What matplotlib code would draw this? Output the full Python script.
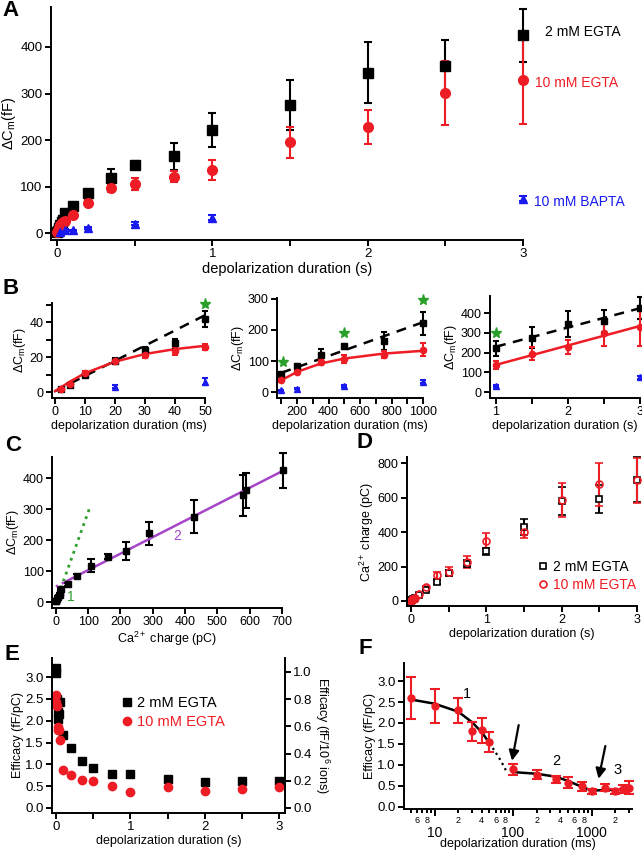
import numpy as np
import matplotlib
matplotlib.use('Agg')
import matplotlib.pyplot as plt
from matplotlib.lines import Line2D
from matplotlib.ticker import FixedLocator, FixedFormatter

plt.rcParams['font.family'] = ['Liberation Sans', 'DejaVu Sans']
plt.rcParams['mathtext.fontset'] = 'custom'
plt.rcParams['mathtext.rm'] = 'Liberation Sans'
plt.rcParams['mathtext.it'] = 'Liberation Sans:italic'
plt.rcParams['mathtext.bf'] = 'Liberation Sans:bold'

RED = '#ee1c24'
BLUE = '#1a1aee'
GREEN = '#2aa02a'
PURPLE = '#a545c8'

# ---- data ----
# depolarization durations (s) for the EGTA series
dur = [0.002, 0.005, 0.01, 0.02, 0.03, 0.04, 0.05, 0.1, 0.2, 0.35, 0.5, 0.75, 1.0, 1.5, 2.0, 2.5, 3.0]
dcm_2mm = [2, 4, 10, 18, 24, 28, 42, 58, 85, 118, 147, 165, 222, 275, 345, 360, 425]
dcm_2mm_err = [0.5, 0.8, 1, 1.5, 2, 2.5, 4.5, 5, 6, 20, 8, 29, 37, 53, 66, 56, 57]
dcm_10mm = [2, 4.5, 10.8, 17.7, 21, 23.5, 26, 38, 65, 96, 106, 121, 136, 195, 228, 301, 330]
dcm_10mm_err = [0.5, 0.8, 1.2, 1.3, 1.5, 2.2, 1.8, 4, 5, 8, 13, 12, 21, 33, 36, 68, 95]

dur_bapta = [0.02, 0.05, 0.1, 0.2, 0.5, 1.0, 3.0]
dcm_bapta = [3, 6, 6, 11, 20, 33, 74]
dcm_bapta_err = [0.8, 2, 1.5, 2, 3, 5, 6]

# fitted lines in B (read as points off the picture)
fitB1_x = [0, 50]
fitB1_black = [0.5, 44]
fitB1_red_x = [0, 5, 10, 20, 30, 40, 50]
fitB1_red = [0.5, 6, 10.8, 17.4, 21.8, 24.6, 26.5]
fitB2_x = [100, 1000]
fitB2_black = [62, 225]
fitB2_red_x = [100, 200, 350, 500, 750, 1000]
fitB2_red = [38, 65, 92, 108, 124, 133]
fitB3_x = [1, 3]
fitB3_black = [230, 425]
fitB3_red = [138, 335]

# significance stars in B
star_b1 = ([50], [50.5])
star_b2 = ([110, 500, 1000], [97, 190, 297])
star_b3 = ([1], [300])

# Ca2+ charge (pC)
ca_2mm = [0.6, 1.2, 4, 8, 11.7, 13, 17.4, 36, 64, 110, 162, 217, 289, 428, 580, 590, 703]
ca_2mm_err = [0.2, 0.4, 0.8, 1.5, 2, 2.5, 3, 3, 5, 12, 15, 20, 20, 45, 80, 80, 130]
ca_10mm = [0.8, 1.7, 4.7, 9.8, 11.8, 13.3, 16.8, 41, 81, 150, 170, 226, 350, 400, 585, 678, 700]
ca_10mm_err = [0.2, 0.4, 0.8, 1.5, 2, 2.5, 3, 4, 8, 20, 25, 35, 45, 35, 100, 125, 130]

# C fit lines
fitC1_x = [0, 105]
fitC1_y = [0, 305]
fitC2_dot_x = [0, 30]
fitC2_dot_y = [50, 66]
fitC2_x = [30, 700]
fitC2_y = [66, 422]

# E efficacy (fF/pC)
eff_2mm = [3.1, 3.22, 2.5, 2.2, 2.05, 2.15, 2.42, 1.67, 1.38, 1.08, 0.91, 0.77, 0.78, 0.66, 0.6, 0.61, 0.61]
eff_10mm = [2.6, 2.42, 2.35, 1.85, 1.8, 1.78, 1.55, 0.88, 0.75, 0.65, 0.63, 0.51, 0.37, 0.49, 0.38, 0.44, 0.47]
ions_per_pC = 3.12  # 10^6 Ca2+ ions per pC

# F efficacy vs duration (ms)
f_dur = [5, 10, 20, 30, 40, 50, 100, 200, 350, 500, 750, 1000, 1500, 2000, 2500, 3000]
f_eff = [2.6, 2.4, 2.3, 1.8, 1.83, 1.55, 0.9, 0.77, 0.66, 0.58, 0.49, 0.37, 0.46, 0.37, 0.42, 0.46]
f_err = [0.5, 0.4, 0.3, 0.22, 0.3, 0.23, 0.13, 0.1, 0.08, 0.13, 0.1, 0.06, 0.08, 0.06, 0.1, 0.15]
fitF1_x = [5, 10, 20, 30, 40, 50]
fitF1_y = [2.56, 2.46, 2.27, 2.02, 1.78, 1.52]
fitF1_dot_x = [50, 60, 70, 85]
fitF1_dot_y = [1.52, 1.3, 1.1, 0.8]
fitF2_x = [100, 200, 350, 500, 750, 1000]
fitF2_y = [0.83, 0.79, 0.72, 0.62, 0.48, 0.39]
fitF3_x = [1000, 1500, 2000, 3000]
fitF3_y = [0.39, 0.4, 0.41, 0.45]

# ---- figure ----
W, H = 642, 852
fig = plt.figure(figsize=(W / 100, H / 100), dpi=100)


def add_ax(left, top, right, bottom):
    return fig.add_axes([left / W, 1 - bottom / H, (right - left) / W, (bottom - top) / H])


def style(ax, fs=9.5):
    ax.spines['top'].set_visible(False)
    ax.spines['right'].set_visible(False)
    for s in ['left', 'bottom']:
        ax.spines[s].set_linewidth(1.4)
    ax.tick_params(which='both', width=1.4, length=4, labelsize=fs, pad=2)


def eb(ax, x, y, err, fmt, color, ms, cap=3, **kw):
    c = ax.errorbar(x, y, yerr=err, fmt=fmt, color=color, ms=ms, capsize=cap,
                    elinewidth=1.5, capthick=1.5, **kw)
    for a in c.get_children():
        a.set_clip_on(False)
    return c


def letter(x, y, s):
    fig.text(x / W, 1 - y / H, s, fontsize=16, fontweight='bold', ha='left', va='center')


ylab_cm = r'$\Delta$C$_\mathregular{m}$(fF)'
dur_a = np.array(dur)

# ---- A ----
axA = add_ax(51, 7, 523, 240)
style(axA)
eb(axA, dur, dcm_2mm, dcm_2mm_err, 's', 'k', 7)
eb(axA, dur, dcm_10mm, dcm_10mm_err, 'o', RED, 7)
eb(axA, dur_bapta, dcm_bapta, dcm_bapta_err, '^', BLUE, 6)
axA.set_xlim(-0.039, 3.0)
axA.set_ylim(-15, 486)
axA.set_xticks([0, 1, 2, 3])
axA.set_xticks([0.5, 1.5, 2.5], minor=True)
axA.set_yticks([0, 100, 200, 300, 400])
axA.set_xlabel('depolarization duration (s)', fontsize=10.5, labelpad=1)
axA.set_ylabel(ylab_cm, fontsize=10.5, labelpad=2)
axA.annotate('2 mM EGTA', xy=(dur[-1], dcm_2mm[-1]), xytext=(22, 3), textcoords='offset pixels',
             va='center', fontsize=10)
axA.annotate('10 mM EGTA', xy=(dur[-1], dcm_10mm[-1]), xytext=(12, -3), textcoords='offset pixels',
             va='center', fontsize=10, color=RED)
axA.annotate('10 mM BAPTA', xy=(dur_bapta[-1], dcm_bapta[-1]), xytext=(11, -3), textcoords='offset pixels',
             va='center', fontsize=10, color=BLUE)
letter(2, 11, 'A')

# ---- B ----
short = dur_a <= 0.05
mid = (dur_a >= 0.1) & (dur_a <= 1.0)
long_ = dur_a >= 1.0
bap = np.array(dur_bapta)
d2 = np.array(dcm_2mm); e2 = np.array(dcm_2mm_err)
d10 = np.array(dcm_10mm); e10 = np.array(dcm_10mm_err)
db = np.array(dcm_bapta); ebp = np.array(dcm_bapta_err)

axB1 = add_ax(52, 303, 205, 398)
style(axB1, 9)
axB1.plot(fitB1_x, fitB1_black, 'k--', lw=1.8, dashes=(4, 3))
axB1.plot(fitB1_red_x, fitB1_red, '-', color=RED, lw=1.8)
eb(axB1, dur_a[short] * 1000, d2[short], e2[short], 's', 'k', 4.5, cap=2.5)
eb(axB1, dur_a[short] * 1000, d10[short], e10[short], 'o', RED, 4.5, cap=2.5)
bm = bap <= 0.05
eb(axB1, bap[bm] * 1000, db[bm], ebp[bm], '^', BLUE, 4.5, cap=2.5)
axB1.plot(*star_b1, '*', color=GREEN, ms=8, clip_on=False)
axB1.set_xlim(-1, 50)
axB1.set_ylim(-3.4, 51)
axB1.set_xticks([0, 10, 20, 30, 40, 50])
axB1.set_yticks([0, 20, 40])
axB1.set_yticks([10, 30, 50], minor=True)
axB1.set_xlabel('depolarization duration (ms)', fontsize=9, labelpad=1)
axB1.set_ylabel(ylab_cm, fontsize=9, labelpad=1)

axB2 = add_ax(277, 298, 423, 398)
style(axB2, 9)
axB2.plot(fitB2_x, fitB2_black, 'k--', lw=1.8, dashes=(4, 3))
axB2.plot(fitB2_red_x, fitB2_red, '-', color=RED, lw=1.8)
eb(axB2, dur_a[mid] * 1000, d2[mid], e2[mid], 's', 'k', 4.5, cap=2.5)
eb(axB2, dur_a[mid] * 1000, d10[mid], e10[mid], 'o', RED, 4.5, cap=2.5)
bm = (bap >= 0.1) & (bap <= 1.0)
eb(axB2, bap[bm] * 1000, db[bm], ebp[bm], '^', BLUE, 4.5, cap=2.5)
axB2.plot(*star_b2, '*', color=GREEN, ms=8, ls='none', clip_on=False)
axB2.set_xlim(73, 1000)
axB2.set_ylim(-19, 303)
axB2.set_xticks([200, 400, 600, 800, 1000])
axB2.set_xticks([100, 300, 500, 700, 900], minor=True)
axB2.set_yticks([0, 100, 200, 300])
axB2.set_xlabel('depolarization duration (ms)', fontsize=9, labelpad=1)
axB2.set_ylabel(ylab_cm, fontsize=9, labelpad=1)

axB3 = add_ax(490, 296, 640, 398)
style(axB3, 9)
axB3.plot(fitB3_x, fitB3_black, 'k--', lw=1.8, dashes=(4, 3))
axB3.plot(fitB3_x, fitB3_red, '-', color=RED, lw=1.8)
eb(axB3, dur_a[long_], d2[long_], e2[long_], 's', 'k', 4.5, cap=2.5)
eb(axB3, dur_a[long_], d10[long_], e10[long_], 'o', RED, 4.5, cap=2.5)
bm = bap >= 1.0
eb(axB3, bap[bm], db[bm], ebp[bm], '^', BLUE, 4.5, cap=2.5)
axB3.plot(*star_b3, '*', color=GREEN, ms=8, clip_on=False)
axB3.set_xlim(0.917, 3.0)
axB3.set_ylim(-30, 487)
axB3.set_xticks([1, 2, 3])
axB3.set_xticks([1.5, 2.5], minor=True)
axB3.set_yticks([0, 100, 200, 300, 400])
axB3.set_xlabel('depolarization duration (s)', fontsize=9, labelpad=1)
axB3.set_ylabel(ylab_cm, fontsize=9, labelpad=1)
letter(3, 288, 'B')

# ---- C ----
axC = add_ax(52, 457, 282, 608)
style(axC, 9)
eb(axC, ca_2mm, dcm_2mm, dcm_2mm_err, 's', 'k', 5, cap=3)
axC.plot(fitC1_x, fitC1_y, ':', color=GREEN, lw=2)
axC.plot(fitC2_dot_x, fitC2_dot_y, ':', color=PURPLE, lw=1.8)
axC.plot(fitC2_x, fitC2_y, '-', color=PURPLE, lw=1.8)
axC.text(46, 16, '1', color=GREEN, fontsize=10, ha='center', va='center')
axC.text(375, 212, '2', color=PURPLE, fontsize=10, ha='center', va='center')
axC.set_xlim(-12, 700)
axC.set_ylim(-19, 468)
axC.set_xticks(range(0, 701, 100))
axC.set_yticks([0, 100, 200, 300, 400])
axC.set_xlabel(r'Ca$^{2+}$ charge (pC)', fontsize=9, labelpad=1)
axC.set_ylabel(ylab_cm, fontsize=9, labelpad=1)
letter(5, 445, 'C')

# ---- D ----
axD = add_ax(407, 457, 637, 606)
style(axD, 9)
eb(axD, dur, ca_2mm, ca_2mm_err, 's', 'k', 5, cap=3, mfc='white', mew=1.2)
eb(axD, dur, ca_10mm, ca_10mm_err, 'o', RED, 5, cap=3, mfc='none', mew=1.2)
axD.set_xlim(-0.053, 3.0)
axD.set_ylim(-29, 835)
axD.set_xticks([0, 1, 2, 3])
axD.set_xticks([0.5, 1.5, 2.5], minor=True)
axD.set_yticks([0, 200, 400, 600, 800])
axD.set_xlabel('depolarization duration (s)', fontsize=9, labelpad=1)
axD.set_ylabel(r'Ca$^{2+}$ charge (pC)', fontsize=9, labelpad=1)
hD = [Line2D([], [], marker='s', mfc='white', mec='k', mew=1.2, ls='none', ms=5),
      Line2D([], [], marker='o', mfc='none', mec=RED, mew=1.2, ls='none', ms=5)]
legD = axD.legend(hD, ['2 mM EGTA', '10 mM EGTA'], loc='lower right', bbox_to_anchor=(1.02, 0.06),
                  frameon=False, fontsize=10, handlelength=0.8, handletextpad=0.3,
                  labelspacing=0.25, borderaxespad=0)
for t, c in zip(legD.get_texts(), ['k', RED]):
    t.set_color(c)
letter(357, 442, 'D')

# ---- E ----
axE = add_ax(52, 658, 285, 813)
style(axE, 9.5)
axE.plot(dur, eff_2mm, 's', color='k', ms=6, clip_on=False)
axE.plot(dur, eff_10mm, 'o', color=RED, ms=6, clip_on=False)
axE.set_xlim(-0.054, 3.08)
axE.set_ylim(-0.115, 3.44)
axE.set_xticks([0, 1, 2, 3])
axE.set_xticks([0.5, 1.5, 2.5], minor=True)
axE.set_yticks(np.arange(0, 3.01, 0.5))
axE.set_yticklabels(['0.0', '0.5', '1.0', '1.5', '2.0', '2.5', '3.0'])
axE.set_xlabel('depolarization duration (s)', fontsize=9, labelpad=1)
axE.set_ylabel('Efficacy (fF/pC)', fontsize=9, labelpad=1)
axE2 = axE.twinx()
axE2.spines['top'].set_visible(False)
axE2.spines['left'].set_visible(False)
axE2.spines['bottom'].set_visible(False)
axE2.spines['right'].set_linewidth(1.4)
axE2.tick_params(width=1.4, length=4, labelsize=9.5, pad=2)
lo, hi = axE.get_ylim()
axE2.set_ylim(lo / ions_per_pC, hi / ions_per_pC)
axE2.set_yticks([0, 0.2, 0.4, 0.6, 0.8, 1.0])
axE2.set_yticklabels(['0.0', '0.2', '0.4', '0.6', '0.8', '1.0'])
axE2.set_ylabel(r'Efficacy (fF/10$^6$ ions)', fontsize=9, rotation=270, labelpad=14)
hE = [Line2D([], [], marker='s', color='k', ls='none', ms=6),
      Line2D([], [], marker='o', color=RED, ls='none', ms=6)]
legE = axE.legend(hE, ['2 mM EGTA', '10 mM EGTA'], loc='upper left', bbox_to_anchor=(0.27, 0.79),
                  frameon=False, fontsize=10.5, handlelength=0.8, handletextpad=0.3,
                  labelspacing=0.35, borderaxespad=0)
for t, c in zip(legE.get_texts(), ['k', RED]):
    t.set_color(c)
letter(4, 655, 'E')

# ---- F ----
axF = add_ax(404, 663, 632, 809)
style(axF, 9.5)
axF.set_xscale('log')
axF.plot(fitF1_x, fitF1_y, 'k-', lw=1.8)
axF.plot(fitF1_dot_x, fitF1_dot_y, 'k:', lw=1.6)
axF.plot(fitF2_x, fitF2_y, 'k-', lw=1.8)
axF.plot(fitF3_x, fitF3_y, 'k-', lw=1.8)
eb(axF, f_dur, f_eff, f_err, 'o', RED, 5, cap=3.5)
axF.annotate('', xy=(97, 1.1), xytext=(118, 1.95),
             arrowprops=dict(arrowstyle='-|>', color='k', lw=1.6, mutation_scale=15, shrinkA=0, shrinkB=0))
axF.annotate('', xy=(1230, 0.67), xytext=(1500, 1.45),
             arrowprops=dict(arrowstyle='-|>', color='k', lw=1.6, mutation_scale=15, shrinkA=0, shrinkB=0))
axF.text(26, 2.68, '1', fontsize=10.5, ha='center', va='center')
axF.text(360, 1.1, '2', fontsize=10.5, ha='center', va='center')
axF.text(2150, 0.88, '3', fontsize=10.5, ha='center', va='center')
axF.set_xlim(4.08, 3280)
axF.set_ylim(-0.05, 3.43)
f_major = [10, 100, 1000]
f_minor = [5, 6, 7, 8, 9, 20, 30, 40, 50, 60, 70, 80, 90,
           200, 300, 400, 500, 600, 700, 800, 900, 2000, 3000]
f_minor_labels = ['', '6', '', '8', '', '2', '', '4', '', '6', '', '8', '',
                  '2', '', '4', '', '6', '', '8', '', '2', '']
axF.xaxis.set_major_locator(FixedLocator(f_major))
axF.xaxis.set_major_formatter(FixedFormatter(['10', '100', '1000']))
axF.xaxis.set_minor_locator(FixedLocator(f_minor))
axF.xaxis.set_minor_formatter(FixedFormatter(f_minor_labels))
axF.tick_params(axis='x', which='major', length=5, pad=7, labelsize=10)
axF.tick_params(axis='x', which='minor', length=3, pad=2, labelsize=6.5)
axF.set_yticks(np.arange(0, 3.01, 0.5))
axF.set_yticklabels(['0.0', '0.5', '1.0', '1.5', '2.0', '2.5', '3.0'])
axF.set_xlabel('depolarization duration (ms)', fontsize=9, labelpad=-1)
axF.set_ylabel('Efficacy (fF/pC)', fontsize=9, labelpad=1)
letter(359, 648, 'F')

fig.savefig('out.png', dpi=100)
